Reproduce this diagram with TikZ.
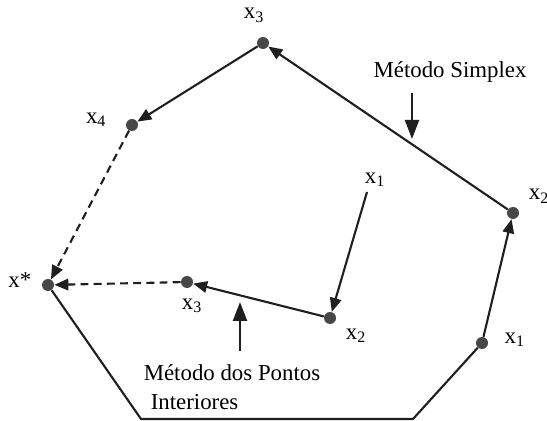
\documentclass[tikz,border=0pt]{standalone}
\usepackage{fontspec}
\setmainfont{Liberation Serif}
\usetikzlibrary{arrows.meta, positioning}

\begin{document}
\begin{tikzpicture}[
        x=0.02cm, y=-0.02cm,
        node distance=0.1cm,
        dot/.style={circle, fill=black!72, inner sep=0pt, minimum size=0.24cm},
        lbl/.style={inner sep=0pt, font=\fontsize{13}{16.5}\selectfont},
        edge/.style={line width=1.2pt, black!88},
        arrow/.style={edge, -{Triangle[length=0.28cm, width=0.23cm]}},
        dasharrow/.style={arrow, dash pattern=on 4.5pt off 3pt},
        pointer/.style={edge, -{Triangle[length=0.38cm, width=0.28cm]}}
    ]
    \useasboundingbox (0,0) rectangle (547,421);

    % solution and simplex vertices
    \node (xs) [dot] at (48,285) {};
    \node (s1) [dot] at (482,343) {};
    \node (s2) [dot] at (513,213) {};
    \node (s3) [dot] at (263,43) {};
    \node (s4) [dot] at (132,125) {};
    \coordinate (bl) at (141,419);
    \coordinate (br) at (413,419);

    % interior path
    \coordinate (i1) at (367,192);
    \node (i2) [dot] at (330,318) {};
    \node (i3) [dot] at (187,282) {};

    % labels
    \node (xslbl) [lbl, left=0.2cm of xs, yshift=0.1cm] {x*};
    \node (s1lbl) [lbl, right=0.32cm of s1, yshift=0.06cm] {x\textsubscript{1}};
    \node (s2lbl) [lbl, above right=0.1cm and 0.22cm of s2] {x\textsubscript{2}};
    \node (s3lbl) [lbl, above=0.28cm of s3, xshift=-0.18cm] {x\textsubscript{3}};
    \node (s4lbl) [lbl, left=0.38cm of s4, yshift=0.1cm] {x\textsubscript{4}};
    \node (i1lbl) [lbl, above=0.1cm of i1, xshift=0.16cm] {x\textsubscript{1}};
    \node (i2lbl) [lbl, below right=0.12cm and 0.22cm of i2] {x\textsubscript{2}};
    \node (i3lbl) [lbl, below=0.2cm of i3, xshift=0.1cm] {x\textsubscript{3}};

    \node (simplex) [lbl] at (450,72) {Método Simplex};
    \node (pontos) [lbl, align=left] at (232,387) {Método dos Pontos\\\hspace{0.14cm}Interiores};
    \coordinate (simtail) at (412,93);
    \coordinate (simtip) at (412,139);
    \coordinate (inttail) at (240,351);
    \coordinate (inttip) at (240,302);

    % feasible region border
    \draw [edge] (xs) -- (bl) -- (br) -- (s1);

    % simplex path
    \draw [arrow] (s1) -- (s2);
    \draw [arrow] (s2) -- (s3);
    \draw [arrow] (s3) -- (s4);
    \draw [dasharrow] (s4) -- (xs);

    % interior point path
    \draw [arrow] (i1) -- (i2);
    \draw [arrow] (i2) -- (i3);
    \draw [dasharrow] (i3) -- (xs);

    % method pointers
    \draw [pointer] (simtail) -- (simtip);
    \draw [pointer] (inttail) -- (inttip);

\end{tikzpicture}
\end{document}
